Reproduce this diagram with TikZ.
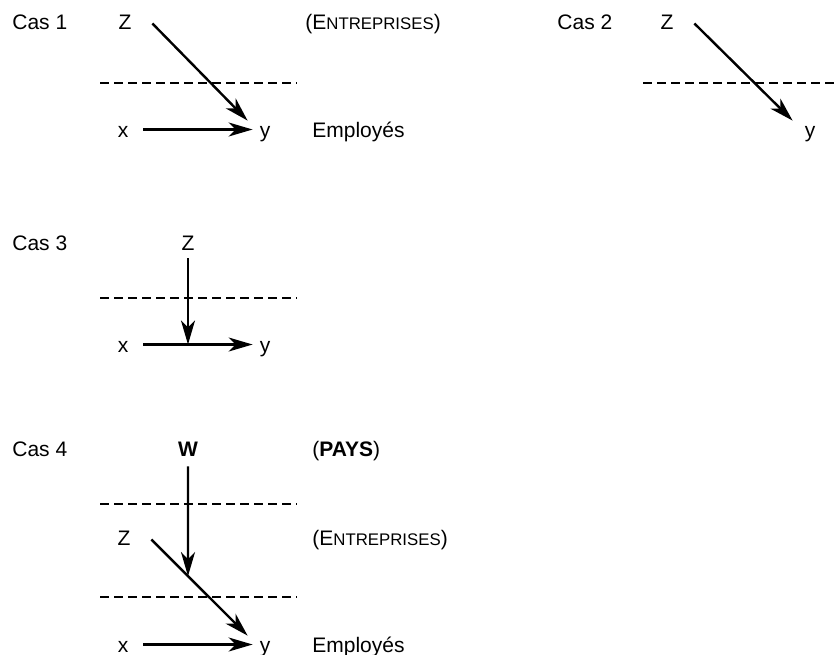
\documentclass[tikz,border=0pt]{standalone}
\usepackage{fontspec}
\setmainfont{Liberation Sans}
\usetikzlibrary{arrows.meta,intersections}

\newcommand{\petitcap}[1]{{\fontsize{8.4}{10}\selectfont #1}}

\tikzset{
  etiquette/.style={anchor=base west, inner sep=0pt},
  lettre/.style={anchor=base, inner sep=0pt, text width=10pt, align=center, text height=7.5pt, text depth=0pt},
  fleche/.style={line width=1.2pt, -{Stealth[length=12pt,width=7pt,inset=3.5pt]}},
  separation/.style={line width=1.1pt, dash pattern=on 4.5pt off 2.5pt},
  depart/.style={shift={(8.5pt,-1pt)}},
  arrivee/.style={shift={(-3.5pt,0.5pt)}}
}

\begin{document}
\begin{tikzpicture}[x=0.5pt,y=-0.5pt,font=\fontsize{10.5}{12.6}\selectfont]
\useasboundingbox (0,0) rectangle (838,654);

% Cas 1
\node[etiquette] (cas1) at (12,29) {Cas 1};
\node[lettre] (z1) at (125,29) {Z};
\node[etiquette] (ent1) at (305,29) {(E\petitcap{NTREPRISES})};
\node[lettre] (x1) at (123,137) {x};
\node[lettre] (y1) at (265,137) {y};
\node[etiquette] (emp1) at (312,137) {Employés};
\draw[separation] (100,83) -- (297,83);
\draw[fleche] ([depart]z1.east) -- ([arrivee]y1.north west);
\draw[fleche,shorten <=5pt,shorten >=1pt] (x1.east) -- (y1.west);

% Cas 2
\node[etiquette] (cas2) at (557,29) {Cas 2};
\node[lettre] (z2) at (667,29) {Z};
\node[lettre] (y2) at (810,137) {y};
\draw[separation] (643,83) -- (838,83);
\draw[fleche] ([depart]z2.east) -- ([arrivee]y2.north west);

% Cas 3
\node[etiquette] (cas3) at (12,250) {Cas 3};
\node[lettre] (z3) at (188,250) {Z};
\node[lettre] (x3) at (123,352) {x};
\node[lettre] (y3) at (265,352) {y};
\draw[separation] (100,298) -- (297,298);
\draw[fleche,shorten <=5pt,shorten >=1pt] (x3.east) -- (y3.west);
\draw[fleche,shorten <=4pt] (z3.south) -- (z3.south |- x3.east);

% Cas 4
\node[etiquette] (cas4) at (12,456) {Cas 4};
\node[lettre] (w4) at (188,456) {\textbf{W}};
\node[etiquette] (pays) at (312,456) {(\textbf{PAYS})};
\node[lettre] (z4) at (124,545) {Z};
\node[etiquette] (ent4) at (312,545) {(E\petitcap{NTREPRISES})};
\node[lettre] (x4) at (123,652) {x};
\node[lettre] (y4) at (265,652) {y};
\node[etiquette] (emp4) at (312,652) {Employés};
\draw[separation] (100,504) -- (297,504);
\draw[separation] (100,597) -- (297,597);
\draw[fleche,name path=diag4] ([depart]z4.east) -- ([arrivee]y4.north west);
\draw[fleche,shorten <=5pt,shorten >=1pt] (x4.east) -- (y4.west);
\path[name path=vert4] (w4.south) -- (w4.south |- y4.south);
\path[name intersections={of=diag4 and vert4,by=m4}];
\draw[fleche,shorten <=5pt] (w4.south) -- (m4);

\end{tikzpicture}
\end{document}
